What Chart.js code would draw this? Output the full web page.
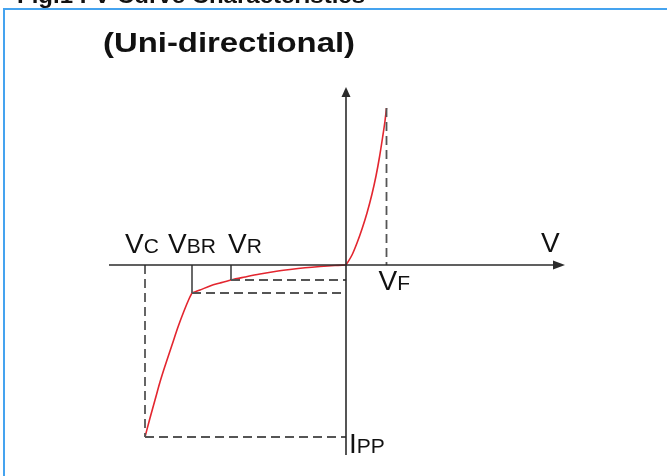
<!DOCTYPE html>
<html>
<head>
<meta charset="utf-8">
<script src="https://cdn.jsdelivr.net/npm/chart.js@4"></script>
<style>
html,body{margin:0;padding:0;background:#fff;overflow:hidden}
canvas{display:block}
</style>
</head>
<body>
<canvas id="c" width="667" height="476"></canvas>
<script>
// ---- data (arbitrary units: V horizontal, I vertical) ----
const breakdownV = [-20.1, -19.6, -19.1, -18.6, -18.0, -17.4, -16.8, -16.2, -15.7, -15.4];
const breakdownI = [-17.2, -15.3, -13.5, -11.7, -9.8, -8.0, -6.2, -4.6, -3.4, -2.8];
const leakageV = [-15.4, -14.6, -13.6, -12.6, -11.5, -10.1, -8.6, -7.1, -5.6, -4.1, -2.6, -1.1, 0];
const leakageI = [-2.8, -2.5, -2.1, -1.8, -1.5, -1.2, -0.9, -0.65, -0.45, -0.28, -0.15, -0.05, 0];
const forwardV = [0, 0.6, 1.1, 1.6, 2.1, 2.6, 3.0, 3.35, 3.65, 3.9, 4.05];
const forwardI = [0, 1.0, 2.2, 3.6, 5.2, 7.1, 8.9, 10.8, 12.7, 14.4, 15.7];

const keyNames = ['VC', 'VBR', 'VR', 'VF', 'IPP'];
const keyV = { VC: -20.1, VBR: -15.4, VR: -11.5, VF: 4.05 };
const keyI = { IPP: -17.2, IBR: -2.8, IR: -1.5, IF: 15.7 };

const labelMain = ['V', 'V', 'V', 'V', 'I'];
const labelSub = ['C', 'BR', 'R', 'F', 'PP'];
const axisLabel = 'V';
const titleText = '(Uni-directional)';
const figText = 'Fig.1 I-V Curve Characteristics';

// ---- build datasets ----
const pts = (xs, ys) => xs.map((x, i) => ({ x: x, y: ys[i] }));
const RED = '#e3262f';
const DASH = '#555555';
const AXIS = '#2b2b2b';

function curve(xs, ys) {
  return { data: pts(xs, ys), showLine: true, borderColor: RED, borderWidth: 1.6,
           pointRadius: 0, cubicInterpolationMode: 'monotone', fill: false };
}
function seg(a, b, color, dash, w) {
  return { data: [a, b], showLine: true, borderColor: color, borderWidth: w,
           borderDash: dash, pointRadius: 0, tension: 0, fill: false };
}

const dsh = [9, 5];
const datasets = [
  // axes
  seg({ x: -23.7, y: 0 }, { x: 21.0, y: 0 }, AXIS, [], 1.6),
  seg({ x: 0, y: -19.0 }, { x: 0, y: 17.0 }, AXIS, [], 1.6),
  // dashed guides
  seg({ x: keyV.VC, y: 0 }, { x: keyV.VC, y: keyI.IPP }, DASH, dsh, 1.8),
  seg({ x: keyV.VC, y: keyI.IPP }, { x: 0, y: keyI.IPP }, DASH, dsh, 1.8),
  seg({ x: keyV.VBR, y: keyI.IBR }, { x: 0, y: keyI.IBR }, DASH, dsh, 1.8),
  seg({ x: keyV.VR, y: keyI.IR }, { x: 0, y: keyI.IR }, DASH, dsh, 1.8),
  seg({ x: keyV.VF, y: keyI.IF }, { x: keyV.VF, y: 0 }, DASH, dsh, 1.8),
  // solid ticks
  seg({ x: keyV.VBR, y: 0 }, { x: keyV.VBR, y: keyI.IBR }, AXIS, [], 1.4),
  seg({ x: keyV.VR, y: 0 }, { x: keyV.VR, y: keyI.IR }, AXIS, [], 1.4),
  // curve
  curve(breakdownV, breakdownI),
  curve(leakageV, leakageI),
  curve(forwardV, forwardI)
];

const FONT = '"Liberation Sans", Arial, sans-serif';

function fitText(ctx, s, font, x, y, w) {
  ctx.font = font;
  const m = ctx.measureText(s).width;
  ctx.save();
  ctx.translate(x, y);
  ctx.scale(w / m, 1);
  ctx.fillText(s, 0, 0);
  ctx.restore();
}
function subLabel(ctx, main, sub, x, y) {
  ctx.font = '28px ' + FONT;
  ctx.fillText(main, x, y);
  const w = ctx.measureText(main).width;
  ctx.font = '21px ' + FONT;
  ctx.fillText(sub, x + w, y);
}

const decor = {
  id: 'decor',
  beforeDraw(chart) {
    const ctx = chart.ctx;
    ctx.save();
    ctx.fillStyle = '#fff';
    ctx.fillRect(0, 0, chart.width, chart.height);
    ctx.restore();
  },
  afterDraw(chart) {
    const ctx = chart.ctx;
    const xs = chart.scales.x, ys = chart.scales.y;
    const px = v => xs.getPixelForValue(v);
    const py = v => ys.getPixelForValue(v);
    ctx.save();
    // frame
    ctx.fillStyle = '#45a3ef';
    ctx.fillRect(3, 8, 664, 2);
    ctx.fillRect(3, 8, 2, 468);
    // titles
    ctx.fillStyle = '#111';
    ctx.textBaseline = 'alphabetic';
    fitText(ctx, figText, 'bold 22px ' + FONT, 17, 3, 348);
    fitText(ctx, titleText, 'bold 27px ' + FONT, 103, 52, 252);
    // arrows
    ctx.fillStyle = AXIS;
    const ox = px(0), oy = py(0);
    const tipX = px(21.9), tipY = py(17.8);
    ctx.beginPath();
    ctx.moveTo(tipX, oy); ctx.lineTo(tipX - 12, oy - 4.5); ctx.lineTo(tipX - 12, oy + 4.5);
    ctx.closePath(); ctx.fill();
    ctx.beginPath();
    ctx.moveTo(ox, tipY); ctx.lineTo(ox - 4.5, tipY + 10); ctx.lineTo(ox + 4.5, tipY + 10);
    ctx.closePath(); ctx.fill();
    // labels
    ctx.fillStyle = '#111';
    const pos = {
      VC: [px(keyV.VC) - 20, oy - 12],
      VBR: [px(keyV.VBR) - 24, oy - 12],
      VR: [px(keyV.VR) - 3, oy - 12],
      VF: [px(keyV.VF) - 8, oy + 25],
      IPP: [ox + 3, py(keyI.IPP) + 16]
    };
    keyNames.forEach((k, i) => {
      subLabel(ctx, labelMain[i], labelSub[i], pos[k][0], pos[k][1]);
    });
    ctx.font = '28px ' + FONT;
    ctx.fillText(axisLabel, tipX - 24, oy - 13);
    ctx.restore();
  }
};

new Chart(document.getElementById('c'), {
  type: 'scatter',
  data: { datasets: datasets },
  options: {
    responsive: false,
    devicePixelRatio: 1,
    animation: false,
    layout: { padding: 0 },
    plugins: { legend: { display: false }, tooltip: { enabled: false }, title: { display: false } },
    scales: {
      x: { type: 'linear', display: false, min: -34.6, max: 32.1 },
      y: { type: 'linear', display: false, min: -21.1, max: 26.5 }
    }
  },
  plugins: [decor]
});
</script>
</body>
</html>
